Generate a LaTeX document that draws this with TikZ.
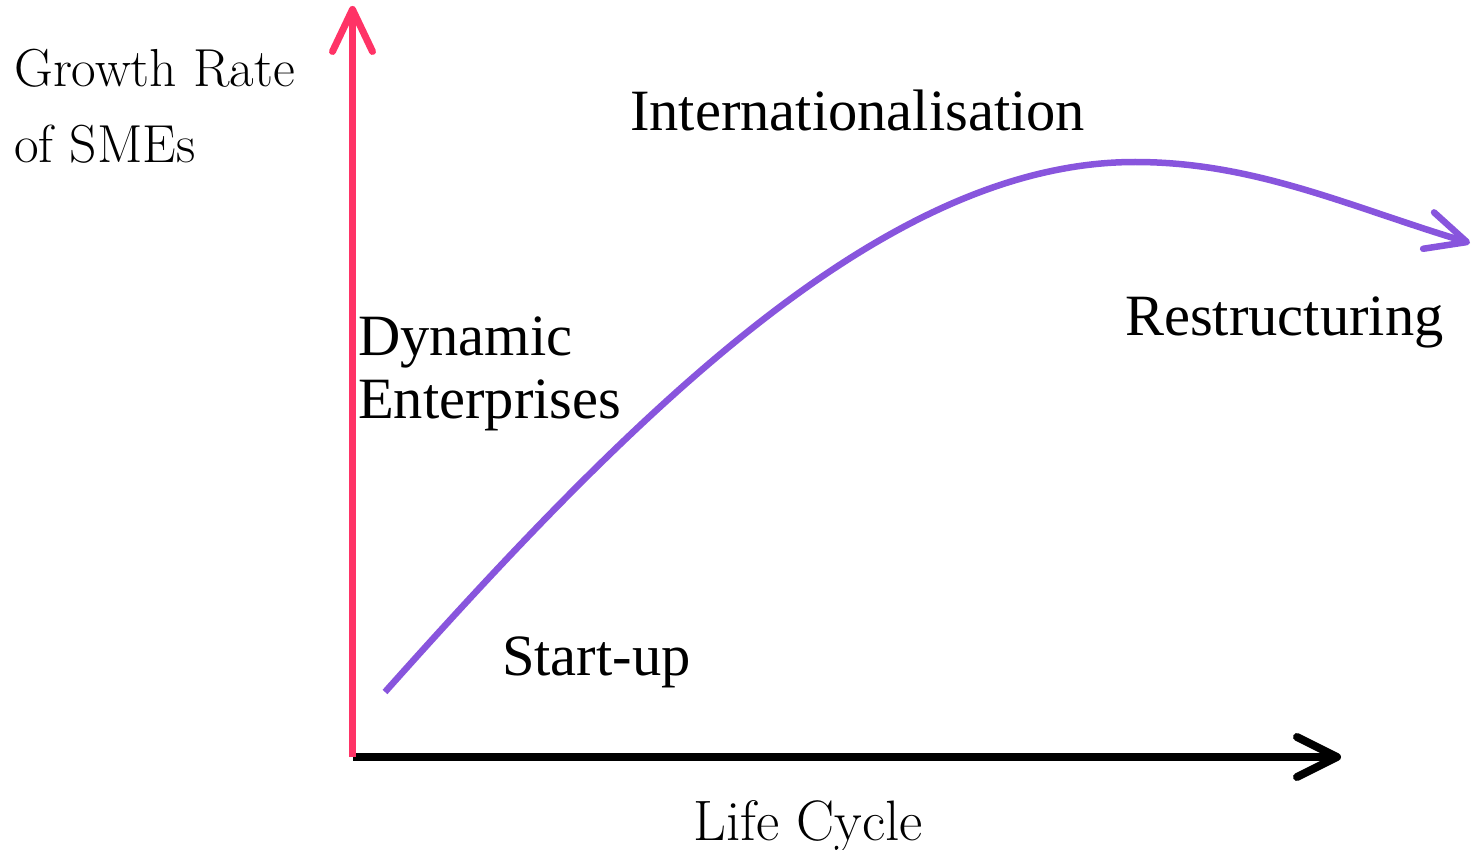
\documentclass[tikz,border=0pt]{standalone}
\usepackage{fontspec}
\newfontfamily\tnr{Liberation Serif}
\usetikzlibrary{arrows.meta}
\definecolor{axisred}{HTML}{FF3366}
\definecolor{curvepurple}{HTML}{8855DD}
\tikzset{
  lightlabel/.style={inner sep=0pt, anchor=base west, align=left,
    font=\fontsize{53.5}{76}\selectfont},
  darklabel/.style={inner sep=0pt, anchor=base west, align=left,
    font=\tnr\fontsize{58.5}{63}\selectfont},
  barb/.style={-{Straight Barb[length=#1, width=40pt, round]}},
}
\begin{document}
\begin{tikzpicture}[x=1pt,y=-1pt]
\useasboundingbox (0,0) rectangle (1472,850);
% axes
\coordinate (origin) at (352.5,757);
\coordinate (ytop) at (352.5,6);
\coordinate (xend) at (1341,757);
\draw[line width=8pt, black, barb=40pt] (origin) -- (xend);
\draw[line width=7pt, axisred, barb=42pt] (origin) -- (ytop);
% curve
\coordinate (cstart) at (385,692);
\coordinate (cpeak) at (1135,162);
\coordinate (cend) at (1470,243);
\draw[line width=6.5pt, curvepurple,
  -{Straight Barb[length=40pt, width=38pt, round]}]
  (cstart) .. controls (635,412) and (885,162) .. (cpeak)
           .. controls (1255,162) and (1350,207) .. (cend);
% labels
\node[lightlabel] (gr) at (14,163) {Growth Rate\\of SMEs};
\node[lightlabel, font=\fontsize{57}{60}\selectfont] (lc) at (693,840) {Life Cycle};
\node[darklabel] (intl) at (630,131) {Internationalisation};
\node[darklabel] (dyn) at (358,418) {Dynamic\\Enterprises};
\node[darklabel] (restr) at (1125,335) {Restructuring};
\node[darklabel] (start) at (502,675) {Start-up};
\end{tikzpicture}
\end{document}
